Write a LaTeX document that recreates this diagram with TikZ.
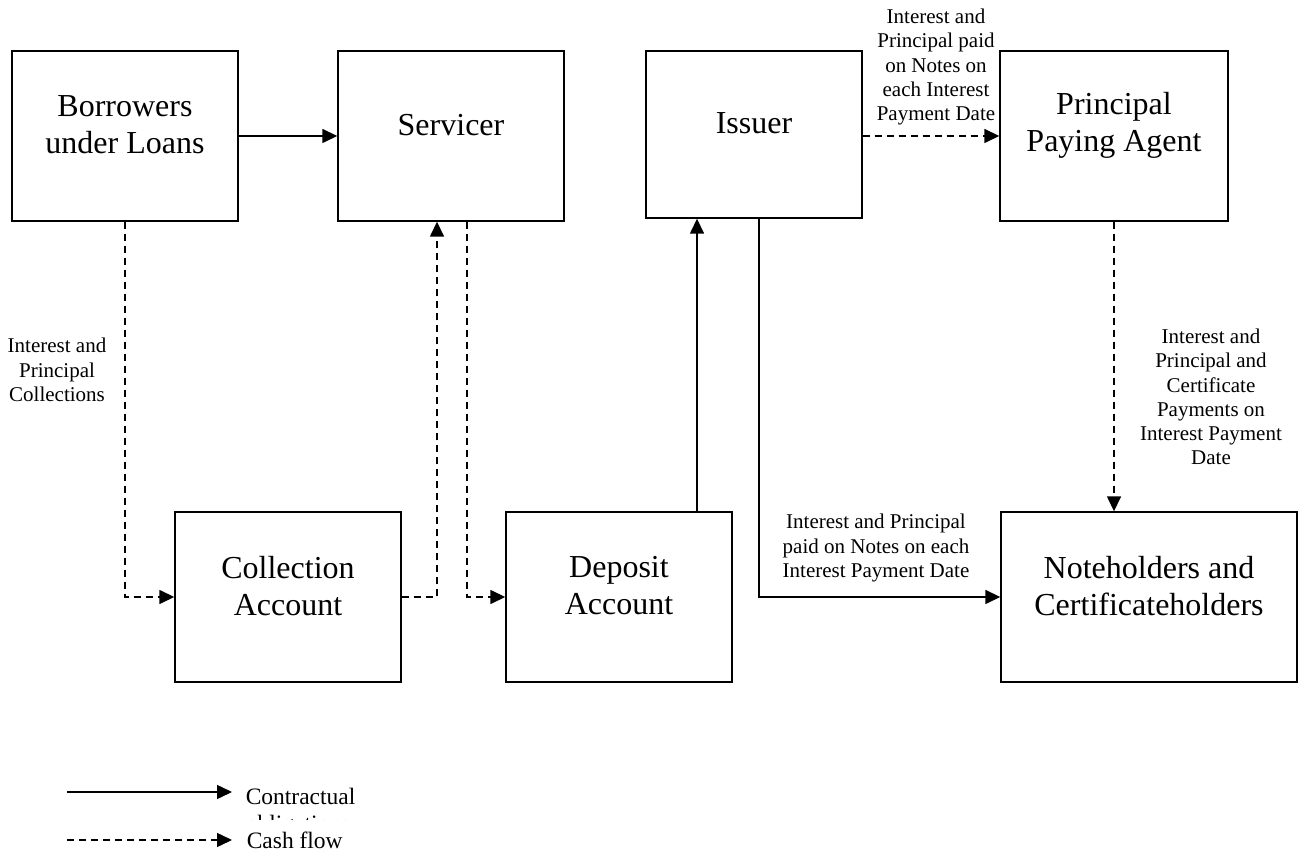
\documentclass[tikz,border=0pt]{standalone}
\usepackage{fontspec}
\setmainfont{Liberation Serif}
\usetikzlibrary{arrows.meta}

\begin{document}
\begin{tikzpicture}[x=1pt,y=1pt,line width=1.5pt,
        box/.style={draw,line width=1.4pt,inner sep=0pt},
        boxtext/.style={align=center,yshift=11pt,font=\fontsize{32}{37}\selectfont},
        lbl/.style={align=center,inner sep=0pt,font=\fontsize{21}{24.3}\selectfont},
        contract/.style={-{Triangle[length=15pt,width=14pt]}},
        cash/.style={-{Triangle[length=15pt,width=14pt]},dash pattern=on 7pt off 5pt}]
        \useasboundingbox (0,0) rectangle (1303,857);
        % boxes
        \node[box,minimum width=226pt,minimum height=170pt] (bor) at (125,721) {};
        \node[box,minimum width=226pt,minimum height=170pt] (serv) at (451,721) {};
        \node[box,minimum width=216pt,minimum height=167pt] (iss) at (754,722.5) {};
        \node[box,minimum width=228pt,minimum height=170pt] (pay) at (1114,721) {};
        \node[box,minimum width=226pt,minimum height=170pt] (coll) at (288,260) {};
        \node[box,minimum width=226pt,minimum height=170pt] (dep) at (619,260) {};
        \node[box,minimum width=296pt,minimum height=170pt] (note) at (1149,260) {};
        \node[boxtext] (bor-t) at (bor) {Borrowers\\under Loans};
        \node[boxtext] (serv-t) at (serv) {Servicer};
        \node[boxtext] (iss-t) at (iss) {Issuer};
        \node[boxtext] (pay-t) at (pay) {Principal\\Paying Agent};
        \node[boxtext] (coll-t) at (coll) {Collection\\Account};
        \node[boxtext] (dep-t) at (dep) {Deposit\\Account};
        \node[boxtext] (note-t) at (note) {Noteholders and\\Certificateholders};
        % flows
        \draw[contract] (bor.east) -- (serv.west);
        \draw[cash] (bor.south) |- (coll.west);
        \draw[cash] (coll.east) -| ([xshift=-14pt]serv.south);
        \draw[cash] ([xshift=16pt]serv.south) |- (dep.west);
        \draw[contract] ([xshift=78pt]dep.north) -- ([xshift=78pt]dep.north |- iss.south);
        \draw[contract] ([xshift=5pt]iss.south) |- (note.west);
        \draw[cash] (iss.east |- pay.west) -- (pay.west);
        \draw[cash] (pay.south) -- (pay.south |- note.north);
        % labels
        \node[lbl] (l-coll) at (57,487) {Interest and\\Principal\\Collections};
        \node[lbl] (l-pay) at (936,790) {Interest and\\Principal paid\\on Notes on\\each Interest\\Payment Date};
        \node[lbl] (l-note) at (1211,460) {Interest and\\Principal and\\Certificate\\Payments on\\Interest Payment\\Date};
        \node[lbl] (l-iss) at (876,309) {Interest and Principal\\paid on Notes on each\\Interest Payment Date};
        % legend
        \coordinate (k1a) at (67,65);
        \coordinate (k1b) at (232,65);
        \coordinate (k2a) at (67,17);
        \coordinate (k2b) at (232,17);
        \draw[contract] (k1a) -- (k1b);
        \draw[cash] (k2a) -- (k2b);
        \begin{scope}
                \clip (0,38) rectangle (1303,857);
                \node[anchor=north west,align=left,inner sep=0pt,font=\fontsize{23.5}{27}\selectfont] (k1-t) at (245,70) {Contractual\\obligations};
        \end{scope}
        \node[anchor=base west,inner sep=0pt,font=\fontsize{23.5}{27}\selectfont] (k2-t) at (246,9) {Cash flow};
\end{tikzpicture}
\end{document}
